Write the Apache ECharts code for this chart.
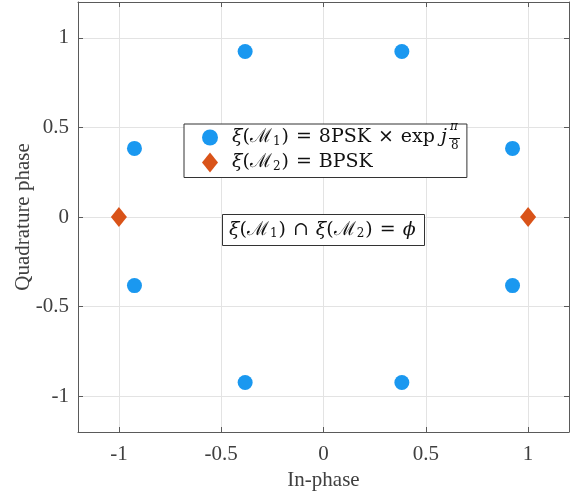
<!DOCTYPE html>
<html><head><meta charset="utf-8">
<script src="https://cdn.jsdelivr.net/npm/echarts@6/dist/echarts.min.js"></script>
<style>html,body{margin:0;padding:0;background:#fff}#c{width:575px;height:495px}</style>
</head><body><div id="c"></div>
<script>
// 8PSK rotated by pi/8 (M1)
const pskI = [0.924, 0.383, -0.383, -0.924, -0.924, -0.383, 0.383, 0.924];
const pskQ = [0.383, 0.924, 0.924, 0.383, -0.383, -0.924, -0.924, -0.383];
// BPSK (M2)
const bpskI = [-1, 1];
const bpskQ = [0, 0];
const tickValues = [-1, -0.5, 0, 0.5, 1];
const seriesNames = ['M1', 'M2'];
const legendTexts = {
  M1: '{i|ξ}(ℳ{s|1}){o|=}8PSK{o|×}exp {i|j}',
  M2: '{i|ξ}(ℳ{s|2}){o|=}BPSK'
};
const noteText = '{i|ξ}(ℳ{s|1}){o|∩}{i|ξ}(ℳ{s|2}){o|=}{i|ϕ}';

const serif = '"Liberation Serif", "DejaVu Serif", serif';
const math = '"DejaVu Serif", "Liberation Serif", serif';
const txt = '#404040';
const axisCol = '#5a5a5a';
const rich = {
  i: {fontStyle: 'italic', fontFamily: math, fontSize: 19, color: '#111'},
  o: {fontFamily: math, fontSize: 19, color: '#111', padding: [0, 7, 0, 7]},
  s: {fontFamily: math, fontSize: 12, color: '#111', verticalAlign: 'bottom', padding: [8, 1, 0, 1]}
};

const chart = echarts.init(document.getElementById('c'), null, {renderer: 'canvas'});
function mkX(pos, showLabel) {
  return {
    type: 'value', min: -1.2, max: 1.2, position: pos, gridIndex: 0,
    name: showLabel ? 'In-phase' : '', nameLocation: 'middle', nameGap: 38, nameMoveOverlap: false,
    nameTextStyle: {fontFamily: serif, fontSize: 21, color: txt},
    axisLine: {show: true, onZero: false, lineStyle: {color: axisCol, width: 1}},
    axisTick: {show: true, inside: true, length: 5, customValues: tickValues, lineStyle: {color: axisCol}},
    axisLabel: {show: showLabel, customValues: tickValues, fontFamily: serif, fontSize: 21, color: txt, margin: 12},
    splitLine: {show: showLabel, lineStyle: {color: '#e3e3e3', width: 1}}
  };
}
function mkY(pos, showLabel) {
  return {
    type: 'value', min: -1.2, max: 1.2, position: pos, gridIndex: 0,
    name: showLabel ? 'Quadrature phase' : '', nameLocation: 'middle', nameGap: 44, nameMoveOverlap: false,
    nameTextStyle: {fontFamily: serif, fontSize: 21, color: txt},
    axisLine: {show: true, onZero: false, lineStyle: {color: axisCol, width: 1}},
    axisTick: {show: true, inside: true, length: 5, customValues: tickValues, lineStyle: {color: axisCol}},
    axisLabel: {show: showLabel, customValues: tickValues, fontFamily: serif, fontSize: 21, color: txt, margin: 9},
    splitLine: {show: showLabel, lineStyle: {color: '#e3e3e3', width: 1}}
  };
}
chart.setOption({
  animation: false,
  backgroundColor: '#fff',
  grid: {left: 78, right: 6, top: 2, bottom: 63, containLabel: false, outerBoundsMode: 'none'},
  xAxis: [mkX('bottom', true), mkX('top', false)],
  yAxis: [mkY('left', true), mkY('right', false)],
  legend: {
    orient: 'vertical', left: 184, top: 124,
    data: [{name: 'M1', icon: 'circle'}, {name: 'M2', icon: 'diamond'}],
    itemWidth: 16, itemHeight: 20, itemGap: 5,
    padding: [4, 20, 5, 18],
    borderColor: '#333', borderWidth: 1, backgroundColor: '#fff',
    formatter: n => legendTexts[n],
    textStyle: {fontFamily: math, fontSize: 19, color: '#111', padding: [0, 0, 0, 9], rich: rich}
  },
  title: {
    text: noteText, left: 222, top: 214,
    padding: [6, 9, 6, 7],
    borderColor: '#333', borderWidth: 1, backgroundColor: '#fff',
    textStyle: {fontFamily: math, fontSize: 19, fontWeight: 'normal', color: '#111', rich: rich}
  },
  graphic: [
    {type: 'text', z: 100, left: 450, top: 121, style: {text: 'π', fontFamily: math, fontStyle: 'italic', fontSize: 12, fill: '#111'}},
    {type: 'line', z: 100, shape: {x1: 449, y1: 138.5, x2: 460, y2: 138.5}, style: {stroke: '#111', lineWidth: 1}},
    {type: 'text', z: 100, left: 451, top: 140, style: {text: '8', fontFamily: math, fontSize: 12, fill: '#111'}}
  ],
  series: [
    {name: 'M1', type: 'scatter', symbol: 'circle', symbolSize: 15,
     itemStyle: {color: '#1a98f0', opacity: 1},
     data: pskI.map((v, k) => [v, pskQ[k]])},
    {name: 'M2', type: 'scatter', symbol: 'diamond', symbolSize: [16, 20],
     itemStyle: {color: '#d95319', opacity: 1},
     data: bpskI.map((v, k) => [v, bpskQ[k]])}
  ]
});
</script></body></html>
